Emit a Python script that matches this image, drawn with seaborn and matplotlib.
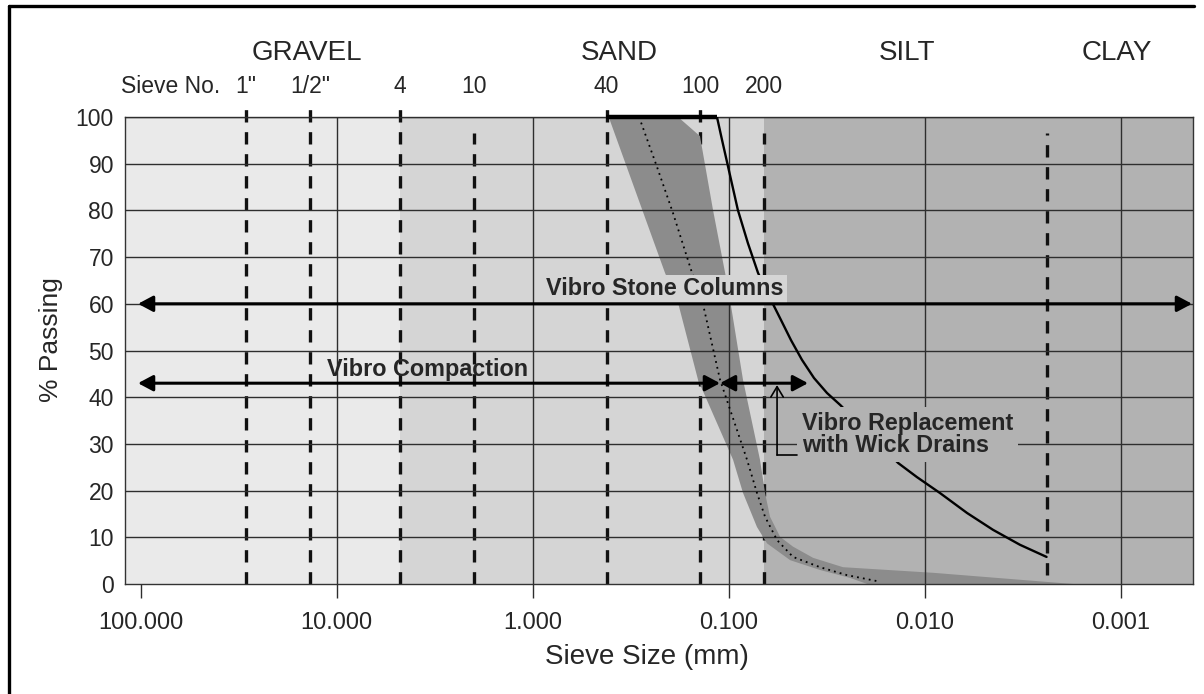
import seaborn as sns
import matplotlib.pyplot as plt
from matplotlib.lines import Line2D
import matplotlib.transforms as mtransforms

# soil classes and their size ranges (mm)
zone_names = ['GRAVEL', 'SAND', 'SILT', 'CLAY']
zone_label_mm = [14.2, 0.363, 0.0123, 0.00105]
zone_edges_mm = [120, 4.75, 0.066, 0.00043]   # gravel | sand | silt + clay

# sieve numbers and the sizes they sit at
sieve_labels = ['1"', '1/2"', '4', '10', '40', '100', '200']
sieve_mm = [29.0, 13.7, 4.75, 2.0, 0.42, 0.14, 0.066]
clay_limit_mm = 0.0024

x_ticks = [100, 10, 1, 0.1, 0.01, 0.001]
x_tick_labels = ['100.000', '10.000', '1.000', '0.100', '0.010', '0.001']
y_ticks = list(range(0, 101, 10))

# upper limit for vibro replacement with wick drains (solid line)
limit_top_mm = [0.425, 0.115]
limit_top_pct = [100, 100]
limit_mm = [0.115, 0.1084, 0.102, 0.090, 0.080, 0.071, 0.060, 0.0542, 0.0482, 0.0424,
            0.0368, 0.0316, 0.027, 0.0137, 0.011, 0.0084, 0.0061, 0.0045, 0.00328, 0.0024]
limit_pct = [100, 95.1, 90.2, 80.1, 73.0, 66.6, 60.2, 56.5, 52.2, 48.0,
             44.1, 40.9, 38.3, 25.9, 22.9, 19.5, 15.2, 11.6, 8.4, 5.8]

# compaction band (grey area), left edge then right edge
band_mm = [0.41, 0.2116, 0.1816, 0.1436, 0.0952, 0.0847, 0.0719, 0.0639, 0.0487,
           0.0343, 0.0241, 0.0197, 0.00176,
           0.0091, 0.0262, 0.0372, 0.0471, 0.0548, 0.0617, 0.0654, 0.0694,
           0.0847, 0.0986, 0.1045, 0.1205, 0.1404, 0.1816]
band_pct = [100, 66.6, 60.2, 43.7, 26.6, 19.5, 12.2, 8.7, 5.1,
            3.0, 1.3, 0, 0,
            2.4, 3.6, 5.6, 8.0, 10.1, 14.4, 19.5, 26.6,
            43.7, 60.8, 66.6, 80.1, 95.9, 100]

# middle of the band (dotted line)
mean_mm = [0.287, 0.2325, 0.1926, 0.1541, 0.137, 0.1109, 0.0808, 0.0719,
           0.0654, 0.0568, 0.0471, 0.0343, 0.0250, 0.0170]
mean_pct = [100, 89.3, 79.4, 66.6, 60.8, 43.7, 26.6, 19.5,
            14.4, 9.4, 5.8, 3.6, 1.9, 0.5]

gravel_c, sand_c, silt_c, band_c = '#eaeaea', '#d5d5d5', '#b2b2b2', '#8c8c8c'
zone_colors = [gravel_c, sand_c, silt_c]

sns.set_theme(style='white')
plt.rcParams['font.family'] = ['Liberation Sans', 'DejaVu Sans']

fig, ax = plt.subplots(figsize=(12.04, 6.94), dpi=100)
ax.set_position([125 / 1204, 110 / 694, 1068 / 1204, 467 / 694])
ax.set_xscale('log')
ax.set_xlim(120, 0.00043)
ax.set_ylim(0, 100)

for i, c in enumerate(zone_colors):
    ax.axvspan(zone_edges_mm[i], zone_edges_mm[i + 1], color=c, lw=0, zorder=0.5)

# sieve lines
blend = mtransforms.blended_transform_factory(ax.transData, ax.transAxes)
short = {'10', '200'}
for lab, mm in zip(sieve_labels, sieve_mm):
    top = 0.966 if lab in short else 1.036
    ax.add_line(Line2D([mm, mm], [0, top], transform=blend, color='#111111', lw=2.4,
                       dashes=(3.7, 2.9), clip_on=False, zorder=1.1))
    ax.text(mm, 1.051, lab, transform=blend, ha='center', va='baseline', fontsize=16.5)
ax.add_line(Line2D([clay_limit_mm] * 2, [0.019, 0.966], transform=blend, color='#111111',
                   lw=2.4, dashes=(3.7, 2.9), zorder=1.1))
ax.text(39.3, 1.051, 'Sieve No.', transform=blend, ha='right', va='baseline', fontsize=16.5)

for name, mm in zip(zone_names, zone_label_mm):
    ax.text(mm, 1.122, name, transform=blend, ha='center', va='baseline', fontsize=20)

# band and curves
ax.fill(band_mm, band_pct, color=band_c, lw=0, zorder=1.2)
sns.lineplot(x=mean_mm, y=mean_pct, sort=False, estimator=None, color='black', lw=1.3,
             linestyle=(0, (1, 2.3)), ax=ax, zorder=3)
sns.lineplot(x=limit_mm, y=limit_pct, sort=False, estimator=None, color='black', lw=1.7,
             ax=ax, zorder=3)
ax.plot(limit_top_mm, limit_top_pct, color='black', lw=3.2, clip_on=False, zorder=3,
        solid_capstyle='butt')

# grid, ticks
ax.set_axisbelow(False)
ax.set_xticks(x_ticks)
ax.set_xticklabels(x_tick_labels)
ax.set_yticks(y_ticks)
ax.minorticks_off()
ax.grid(True, color='#2e2e2e', lw=1.0)
ax.xaxis.get_major_ticks()[0].gridline.set_visible(False)
ax.xaxis.get_major_ticks()[0].tick1line.set_visible(False)
ax.yaxis.get_major_ticks()[0].gridline.set_visible(False)
ax.tick_params(axis='x', direction='out', length=10, width=1.0, color='#2e2e2e',
               pad=10.5, labelsize=17, bottom=True)
ax.tick_params(axis='y', length=0, pad=8, labelsize=16.5)
for s in ax.spines.values():
    s.set_color('#333333')
    s.set_linewidth(1.0)

ax.set_xlabel('Sieve Size (mm)', fontsize=20, va='top')
ax.xaxis.set_label_coords(0.4888, -0.128)
ax.set_ylabel('% Passing', fontsize=19)
ax.yaxis.set_label_coords(-0.058, 0.5225)

# annotations
bold = dict(fontsize=16.8, fontweight='bold', zorder=4)
ax.text(0.2116, 63.2, 'Vibro Stone Columns', ha='center', va='center',
        bbox=dict(boxstyle='square,pad=0.12', fc=sand_c, ec='none'), **bold)
ax.text(3.42, 46, 'Vibro Compaction', ha='center', va='center', **bold)
ax.text(0.0424, 32, 'Vibro Replacement\nwith Wick Drains', ha='left', va='center',
        linespacing=0.95, bbox=dict(boxstyle='square,pad=0.2', fc=silt_c, ec='none'), **bold)

head = '<|-|>,head_length=0.6,head_width=0.32'
for x0, x1, y in [(103, 0.000435, 60), (103, 0.111, 43), (0.111, 0.0395, 43)]:
    ax.annotate('', xy=(x1, y), xytext=(x0, y), annotation_clip=False, zorder=5,
                arrowprops=dict(arrowstyle=head, mutation_scale=15, lw=2.2, color='black',
                                shrinkA=0, shrinkB=0))
ax.annotate('', xy=(0.0568, 42.6), xytext=(0.0568, 27.6), zorder=5,
            arrowprops=dict(arrowstyle='->,head_length=0.5,head_width=0.3', mutation_scale=15,
                            lw=1.2, color='black', shrinkA=0, shrinkB=0))
ax.plot([0.0568, 0.0449], [27.6, 27.6], color='black', lw=1.2, zorder=5)

# page frame
fig.add_artist(Line2D([9 / 1204, 9 / 1204], [0, 1 - 6 / 694], transform=fig.transFigure,
                      color='black', lw=2.4))
fig.add_artist(Line2D([9 / 1204, 1194 / 1204], [1 - 6 / 694, 1 - 6 / 694],
                      transform=fig.transFigure, color='black', lw=2.4))

fig.savefig('out.png', dpi=100)
